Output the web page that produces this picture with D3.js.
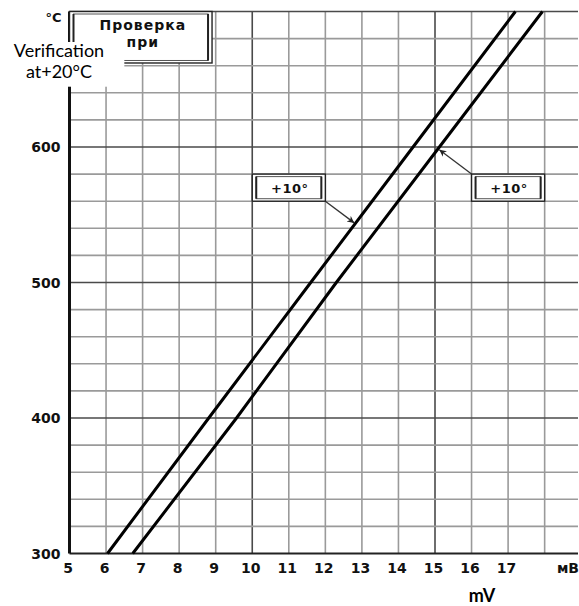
<!DOCTYPE html>
<html>
<head>
<meta charset="utf-8">
<script src="https://cdn.jsdelivr.net/npm/d3@7"></script>
<style>
body { margin: 0; background: #fff; }
svg { display: block; }
</style>
</head>
<body>
<div id="chart"></div>
<script>
// temperature (°C) vs. reading (mV), two calibration lines
var temps = [300, 400, 500, 600, 700];
var lineLeft = [6.04, 8.81, 11.6, 14.4, 17.2];
var lineRight = [6.73, 9.57, 12.3, 15.12, 17.94];

var mvTicks = [5, 6, 7, 8, 9, 10, 11, 12, 13, 14, 15, 16, 17];
var tempTicks = [300, 400, 500, 600];
var mvUnit = "мВ";
var tempUnit = "°C";
var boxTitle = ["Проверка", "при"];
var overlayText = ["Verification", "at+20°C"];
var bottomLabel = "mV";
var markLabels = ["+10°", "+10°"];

var width = 579, height = 606;

var svg = d3.select("#chart")
    .append("svg")
    .attr("width", width)
    .attr("height", height);

var x = d3.scaleLinear()
    .domain([5, 19])
    .range([69.5, 69.5 + 14 * 36.55]);

var y = d3.scaleLinear()
    .domain([300, 700])
    .range([553.5, 11.5]);

var plotRight = width - 1;

// grid
var grid = svg.append("g");
grid.selectAll("line.v")
    .data(d3.range(6, 19))
    .join("line")
    .attr("x1", d => x(d)).attr("x2", d => x(d))
    .attr("y1", y(700)).attr("y2", y(300))
    .attr("stroke", d => d % 5 == 0 ? "#4a4a4a" : "#9a9a9a")
    .attr("stroke-width", 1.6);

grid.selectAll("line.h")
    .data(d3.range(320, 701, 20))
    .join("line")
    .attr("x1", x(5)).attr("x2", plotRight)
    .attr("y1", d => y(d)).attr("y2", d => y(d))
    .attr("stroke", d => d % 100 == 0 ? "#4a4a4a" : "#9a9a9a")
    .attr("stroke-width", 1.6);

// axes lines
svg.append("line")
    .attr("x1", x(5)).attr("x2", plotRight)
    .attr("y1", y(300)).attr("y2", y(300))
    .attr("stroke", "#222").attr("stroke-width", 2.2);
svg.append("line")
    .attr("x1", x(5)).attr("x2", x(5))
    .attr("y1", y(700)).attr("y2", y(300))
    .attr("stroke", "#111").attr("stroke-width", 3);

// tick labels
var tickFont = "'DejaVu Sans', sans-serif";
svg.append("g")
    .selectAll("text")
    .data(mvTicks)
    .join("text")
    .attr("x", d => x(d) - 1.5)
    .attr("y", y(300) + 19)
    .attr("text-anchor", "middle")
    .style("font", "bold 14px " + tickFont)
    .attr("fill", "#111")
    .text(d => d);

svg.append("g")
    .selectAll("text")
    .data(tempTicks)
    .join("text")
    .attr("x", x(5) - 9)
    .attr("y", d => y(d) + 5)
    .attr("text-anchor", "end")
    .style("font", "bold 14px " + tickFont)
    .attr("fill", "#111")
    .text(d => d);

svg.append("text")
    .attr("x", width)
    .attr("y", y(300) + 19)
    .attr("text-anchor", "end")
    .style("font", "bold 14px " + tickFont)
    .attr("fill", "#111")
    .text(mvUnit);

svg.append("text")
    .attr("x", x(5) - 8)
    .attr("y", y(700) + 10.5)
    .attr("text-anchor", "end")
    .style("font", "bold 13px " + tickFont)
    .attr("fill", "#111")
    .text(tempUnit);

// calibration lines
var line = d3.line()
    .x(d => x(d[0]))
    .y(d => y(d[1]));

[lineLeft, lineRight].forEach(function(s) {
    svg.append("path")
        .datum(s.map((v, i) => [v, temps[i]]))
        .attr("d", line)
        .attr("fill", "none")
        .attr("stroke", "#000")
        .attr("stroke-width", 3);
});

// arrow marker
svg.append("defs")
    .append("marker")
    .attr("id", "arrow")
    .attr("viewBox", "0 0 10 10")
    .attr("refX", 10).attr("refY", 5)
    .attr("markerWidth", 9).attr("markerHeight", 7)
    .attr("markerUnits", "userSpaceOnUse")
    .attr("orient", "auto")
    .append("path")
    .attr("d", "M0,0 L10,5 L0,10 L3,5 z")
    .attr("fill", "#222");

// double bordered box helper
function framedBox(x0, y0, x1, y1) {
    var g = svg.append("g");
    g.append("rect")
        .attr("x", x0).attr("y", y0)
        .attr("width", x1 - x0).attr("height", y1 - y0)
        .attr("fill", "#fff").attr("stroke", "#222").attr("stroke-width", 1.4);
    g.append("rect")
        .attr("x", x0 + 4).attr("y", y0 + 2.5)
        .attr("width", x1 - x0 - 8).attr("height", y1 - y0 - 5)
        .attr("fill", "none").attr("stroke", "#555").attr("stroke-width", 1);
    [x0 + 4, x1 - 4].forEach(function(xx) {
        g.append("line")
            .attr("x1", xx).attr("x2", xx)
            .attr("y1", y0 + 2.5).attr("y2", y1 - 2.5)
            .attr("stroke", "#222").attr("stroke-width", 2);
    });
    return g;
}

// "+10°" labels with arrows
var tempOfLeft = d3.scaleLinear().domain(temps).range(lineLeft);
var tempOfRight = d3.scaleLinear().domain(temps).range(lineRight);
var marks = [
    {mv: [10, 12], from: [12, 560], target: [tempOfLeft(544), 544]},
    {mv: [16, 18], from: [16, 580], target: [tempOfRight(598), 598]}
];

marks.forEach(function(m, i) {
    svg.append("line")
        .attr("x1", x(m.from[0])).attr("y1", y(m.from[1]))
        .attr("x2", x(m.target[0]) + (i == 0 ? -1.5 : 2)).attr("y2", y(m.target[1]))
        .attr("stroke", "#333").attr("stroke-width", 1.3)
        .attr("marker-end", "url(#arrow)");
    var g = framedBox(x(m.mv[0]), y(580), x(m.mv[1]), y(560));
    g.append("text")
        .attr("x", (x(m.mv[0]) + x(m.mv[1])) / 2 + 1)
        .attr("y", y(570) + 5)
        .attr("text-anchor", "middle")
        .style("font", "bold 13px " + tickFont)
        .style("letter-spacing", "0.5px")
        .attr("fill", "#111")
        .text(markLabels[i]);
});

// "Проверка при" box
var tb = framedBox(x(5), y(700), x(8.9), y(662));
tb.selectAll("text")
    .data(boxTitle)
    .join("text")
    .attr("x", (x(5) + x(8.9)) / 2 + 2)
    .attr("y", (d, i) => y(700) + 18 + i * 17)
    .attr("text-anchor", "middle")
    .style("font", "bold 14px " + tickFont)
    .style("letter-spacing", "1px")
    .attr("fill", "#111")
    .text(d => d);

// overlay translation
svg.append("rect")
    .attr("x", 0).attr("y", y(677.5))
    .attr("width", x(6.5)).attr("height", y(644.5) - y(677.5))
    .attr("fill", "#fff");

svg.append("g")
    .selectAll("text")
    .data(overlayText)
    .join("text")
    .attr("x", 59)
    .attr("y", (d, i) => y(677.5) + 15 + i * 21)
    .attr("text-anchor", "middle")
    .style("font", "18px Lato, sans-serif")
    .attr("fill", "#000")
    .text(d => d);

svg.append("text")
    .attr("x", 482)
    .attr("y", 602)
    .attr("text-anchor", "middle")
    .style("font", "bold 18px Lato, sans-serif")
    .attr("fill", "#000")
    .text(bottomLabel);
</script>
</body>
</html>
